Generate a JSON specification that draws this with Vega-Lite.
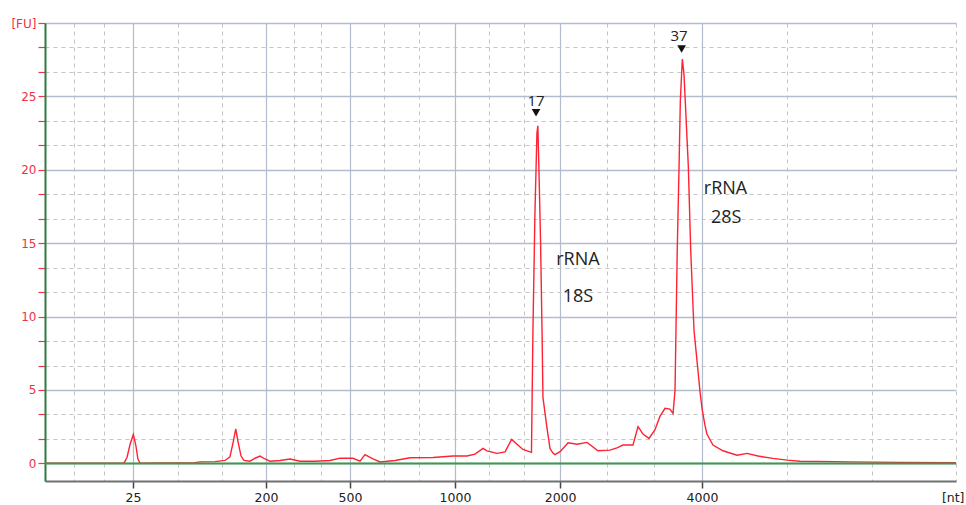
{
  "$schema": "https://vega.github.io/schema/vega-lite/v6.json",
  "width": 911,
  "height": 458,
  "autosize": "none",
  "padding": {"left": 45, "top": 23, "right": 10, "bottom": 24},
  "background": "white",
  "config": {"view": {"stroke": null}, "axis": {"labelFont": "DejaVu Sans"}},
  "datasets": {
    "curve": [
      {"t": 19.00, "fu": 0.02}, {"t": 23.34, "fu": 0.03}, {"t": 23.50, "fu": 0.4}, {"t": 23.67, "fu": 1.3},
      {"t": 23.85, "fu": 1.97}, {"t": 23.99, "fu": 1.2}, {"t": 24.10, "fu": 0.3}, {"t": 24.21, "fu": 0.02},
      {"t": 27.23, "fu": 0.04}, {"t": 27.51, "fu": 0.1}, {"t": 28.33, "fu": 0.12}, {"t": 28.88, "fu": 0.2},
      {"t": 29.15, "fu": 0.45}, {"t": 29.32, "fu": 1.4}, {"t": 29.47, "fu": 2.35}, {"t": 29.59, "fu": 1.5},
      {"t": 29.76, "fu": 0.5}, {"t": 29.92, "fu": 0.2}, {"t": 30.25, "fu": 0.15}, {"t": 30.53, "fu": 0.35},
      {"t": 30.80, "fu": 0.5}, {"t": 31.07, "fu": 0.3}, {"t": 31.35, "fu": 0.15}, {"t": 31.90, "fu": 0.2},
      {"t": 32.45, "fu": 0.3}, {"t": 33.00, "fu": 0.15}, {"t": 33.82, "fu": 0.15}, {"t": 34.64, "fu": 0.2},
      {"t": 35.19, "fu": 0.36}, {"t": 35.90, "fu": 0.35}, {"t": 36.29, "fu": 0.15}, {"t": 36.56, "fu": 0.6},
      {"t": 37.00, "fu": 0.3}, {"t": 37.39, "fu": 0.1}, {"t": 38.21, "fu": 0.2}, {"t": 39.03, "fu": 0.38},
      {"t": 40.30, "fu": 0.4}, {"t": 41.39, "fu": 0.5}, {"t": 42.16, "fu": 0.5}, {"t": 42.60, "fu": 0.63},
      {"t": 43.04, "fu": 1.02}, {"t": 43.26, "fu": 0.85}, {"t": 43.81, "fu": 0.68}, {"t": 44.25, "fu": 0.78},
      {"t": 44.61, "fu": 1.63}, {"t": 45.23, "fu": 0.95}, {"t": 45.70, "fu": 0.75},
      {"t": 45.78, "fu": 9.0}, {"t": 45.89, "fu": 17}, {"t": 46.00, "fu": 22.5}, {"t": 46.05, "fu": 23.0},
      {"t": 46.11, "fu": 20}, {"t": 46.20, "fu": 15}, {"t": 46.28, "fu": 9}, {"t": 46.33, "fu": 4.5},
      {"t": 46.54, "fu": 2.5}, {"t": 46.72, "fu": 1.0}, {"t": 46.88, "fu": 0.7}, {"t": 46.99, "fu": 0.6},
      {"t": 47.27, "fu": 0.8}, {"t": 47.71, "fu": 1.4}, {"t": 48.20, "fu": 1.3}, {"t": 48.75, "fu": 1.43},
      {"t": 49.35, "fu": 0.86}, {"t": 50.01, "fu": 0.9}, {"t": 50.39, "fu": 1.05}, {"t": 50.72, "fu": 1.25},
      {"t": 51.27, "fu": 1.25}, {"t": 51.55, "fu": 2.5}, {"t": 51.66, "fu": 2.3}, {"t": 51.82, "fu": 2.0},
      {"t": 52.15, "fu": 1.7}, {"t": 52.48, "fu": 2.3}, {"t": 52.75, "fu": 3.2}, {"t": 53.03, "fu": 3.75},
      {"t": 53.30, "fu": 3.7}, {"t": 53.47, "fu": 3.4}, {"t": 53.58, "fu": 5.0}, {"t": 53.63, "fu": 9.0},
      {"t": 53.70, "fu": 14.5}, {"t": 53.80, "fu": 20.2}, {"t": 53.87, "fu": 24.7}, {"t": 53.98, "fu": 27.55},
      {"t": 54.07, "fu": 26.5}, {"t": 54.14, "fu": 24.7}, {"t": 54.31, "fu": 20.2}, {"t": 54.44, "fu": 14.5},
      {"t": 54.62, "fu": 9.07}, {"t": 54.80, "fu": 6.8}, {"t": 54.95, "fu": 4.9}, {"t": 55.06, "fu": 3.75},
      {"t": 55.22, "fu": 2.6}, {"t": 55.33, "fu": 2.0}, {"t": 55.66, "fu": 1.25}, {"t": 56.21, "fu": 0.86},
      {"t": 56.98, "fu": 0.56}, {"t": 57.53, "fu": 0.68}, {"t": 58.13, "fu": 0.5}, {"t": 58.96, "fu": 0.34},
      {"t": 59.73, "fu": 0.22}, {"t": 60.44, "fu": 0.15}, {"t": 63.18, "fu": 0.1}, {"t": 65.93, "fu": 0.07},
      {"t": 69.00, "fu": 0.05}
    ],
    "baseline": [{"t": 19, "fu": 0}, {"t": 69, "fu": 0}],
    "peaks": [
      {"t": 45.95, "fu": 23.88, "tt": 45.95, "ty": 24.71, "label": "17"},
      {"t": 53.94, "fu": 28.23, "tt": 53.80, "ty": 29.13, "label": "37"}
    ],
    "notes": [
      {"t": 48.25, "fu": 13.83, "label": "rRNA"},
      {"t": 48.25, "fu": 11.32, "label": "18S"},
      {"t": 56.35, "fu": 18.69, "label": "rRNA"},
      {"t": 56.39, "fu": 16.69, "label": "28S"}
    ]
  },
  "encoding": {
    "x": {
      "field": "t", "type": "quantitative",
      "scale": {"domain": [19, 69], "nice": false, "zero": false},
      "axis": {
        "title": null,
        "values": [20.59, 22.24, 23.83, 26.30, 28.71, 31.13, 32.67, 34.15, 35.74, 37.61, 39.53, 41.5, 43.37, 45.29, 47.27, 49.85, 52.42, 55.06, 59.72, 64.39, 69],
        "grid": true,
        "gridColor": {"condition": {"test": "indexof([23.83,31.13,35.74,41.5,47.27,55.06], datum.value) >= 0", "value": "#b3bccd"}, "value": "#c4c4c4"},
        "gridDash": {"condition": {"test": "indexof([23.83,31.13,35.74,41.5,47.27,55.06], datum.value) >= 0", "value": []}, "value": [4, 4]},
        "gridWidth": {"condition": {"test": "indexof([23.83,31.13,35.74,41.5,47.27,55.06], datum.value) >= 0", "value": 1.2}, "value": 1},
        "tickOpacity": {"condition": {"test": "indexof([23.83,31.13,35.74,41.5,47.27,55.06], datum.value) >= 0", "value": 1}, "value": 0},
        "tickColor": "#444444",
        "tickSize": 7,
        "tickWidth": 1.5,
        "labelExpr": "datum.value == 23.83 ? '25' : datum.value == 31.13 ? '200' : datum.value == 35.74 ? '500' : datum.value == 41.5 ? '1000' : datum.value == 47.27 ? '2000' : datum.value == 55.06 ? '4000' : datum.value == 69 ? '[nt]' : ''",
        "labelAlign": {"condition": {"test": "datum.value == 69", "value": "right"}, "value": "center"},
        "labelOffset": {"condition": {"test": "datum.value == 69", "value": 8}, "value": 0},
        "labelColor": "#222222",
        "labelFontSize": 12.5,
        "labelPadding": 3,
        "labelOverlap": false,
        "labelFlush": false,
        "labelBound": false,
        "domainColor": "#707070",
        "domainWidth": 2
      }
    },
    "y": {
      "field": "fu", "type": "quantitative",
      "scale": {"domain": [-1.2, 30], "nice": false, "zero": false},
      "axis": {
        "title": null,
        "values": [0, 1.667, 3.333, 5, 6.667, 8.333, 10, 11.667, 13.333, 15, 16.667, 18.333, 20, 21.667, 23.333, 25, 26.667, 28.333, 30],
        "grid": true,
        "gridColor": {"condition": {"test": "indexof([0,5,10,15,20,25,30], datum.value) >= 0", "value": "#b3bccd"}, "value": "#c4c4c4"},
        "gridDash": {"condition": {"test": "indexof([0,5,10,15,20,25,30], datum.value) >= 0", "value": []}, "value": [4, 4]},
        "gridWidth": {"condition": {"test": "indexof([0,5,10,15,20,25,30], datum.value) >= 0", "value": 1.6}, "value": 1},
        "tickColor": "#f2354b",
        "tickSize": 7,
        "tickWidth": 1.2,
        "labelExpr": "datum.value == 30 ? '[FU]' : (indexof([0,5,10,15,20,25], datum.value) >= 0 ? '' + datum.value : '')",
        "labelColor": "#ef3145",
        "labelFontSize": 12,
        "labelPadding": 2,
        "labelOverlap": false,
        "labelBound": false,
        "labelFlush": false,
        "domainColor": "#2f7a40",
        "domainWidth": 2
      }
    }
  },
  "layer": [
    {
      "data": {"name": "curve"},
      "mark": {"type": "line", "color": "#ff2233", "strokeWidth": 1.4, "interpolate": "linear"}
    },
    {
      "data": {"name": "baseline"},
      "mark": {"type": "line", "color": "#3c9a48", "strokeWidth": 2}
    },
    {
      "data": {"name": "peaks"},
      "mark": {"type": "point", "shape": "triangle-down", "filled": true, "color": "#111111", "size": 75, "opacity": 1}
    },
    {
      "data": {"name": "peaks"},
      "mark": {"type": "text", "font": "Open Sans", "fontSize": 15, "color": "#222222", "baseline": "middle", "align": "center"},
      "encoding": {
        "x": {"field": "tt", "type": "quantitative"},
        "y": {"field": "ty", "type": "quantitative"},
        "text": {"field": "label"}
      }
    },
    {
      "data": {"name": "notes"},
      "mark": {"type": "text", "font": "Open Sans", "fontSize": 18, "color": "#222222", "baseline": "middle", "align": "center"},
      "encoding": {"text": {"field": "label"}}
    }
  ]
}
